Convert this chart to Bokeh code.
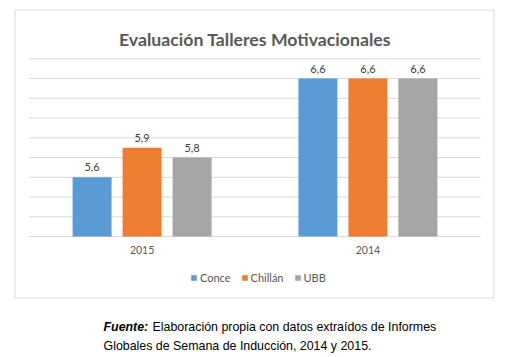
from bokeh.plotting import figure
from bokeh.models import ColumnDataSource, FactorRange, Range1d, Legend, LegendItem
from bokeh.transform import dodge
from bokeh.embed import file_html
from bokeh.resources import INLINE
from bokeh.core.properties import value

# ---- data ----
years = ["2015", "2014"]
series_names = ["Conce", "Chillán", "UBB"]
conce = [5.6, 6.6]
chillan = [5.9, 6.6]
ubb = [5.8, 6.6]
y_ticks = [5.0, 5.2, 5.4, 5.6, 5.8, 6.0, 6.2, 6.4, 6.6, 6.8]
title_text = "Evaluación Talleres Motivacionales"
source_bold = "Fuente:"
source_line1 = "Elaboración propia con datos extraídos de Informes"
source_line2 = "Globales de Semana de Inducción, 2014 y 2015."

# ---- style / layout ----
W, H = 509, 357
colors = ["#5B9BD5", "#ED7D31", "#A5A5A5"]
FONT = "Lato"
TXT = "#595959"
GRID = "#D9D9D9"

# pixel <-> data helpers (frame covers the whole canvas)
PAD = 0.127                       # category range padding on each side
PX_X = W / (len(years) + 2 * PAD)  # pixels per category
Y_BASE_PX, Y_TOP_PX = 236.0, 58.3  # pixel rows of the axis min / max
Y_MIN, Y_MAX = y_ticks[0], y_ticks[-1]
PX_Y = (Y_BASE_PX - Y_TOP_PX) / (Y_MAX - Y_MIN)

def xpx(px):
    return -PAD + px / PX_X

def ypx(py):
    return Y_MIN + (Y_BASE_PX - py) / PX_Y

p = figure(width=W, height=H, output_backend="svg", toolbar_location=None,
           x_range=FactorRange(*years, range_padding=PAD, range_padding_units="absolute"),
           y_range=Range1d(ypx(H), ypx(0)),
           min_border=0, min_border_left=0, min_border_right=0, min_border_top=0, min_border_bottom=0)
p.title.visible = False
p.background_fill_color = "white"
p.border_fill_color = "white"
p.outline_line_color = None
p.xgrid.visible = False
p.ygrid.visible = False
p.yaxis.visible = False

# outer chart border
p.quad(left=xpx(14.5), right=xpx(493.5), top=ypx(9.5), bottom=ypx(297.5),
       fill_color=None, line_color=GRID, line_width=1)

# horizontal gridlines spanning the category area
p.segment(x0=[0] * len(y_ticks), x1=[len(years)] * len(y_ticks), y0=y_ticks, y1=y_ticks,
          line_color=GRID, line_width=1)

# bars and value labels
src = ColumnDataSource(dict(
    year=years, c0=conce, c1=chillan, c2=ubb,
    l0=[f"{v:.1f}".replace(".", ",") for v in conce],
    l1=[f"{v:.1f}".replace(".", ",") for v in chillan],
    l2=[f"{v:.1f}".replace(".", ",") for v in ubb],
))
offsets = [-0.2214, 0.0, 0.2214]
items = []
for i, (name, col) in enumerate(zip(series_names, colors)):
    r = p.vbar(x=dodge("year", offsets[i], range=p.x_range), top=f"c{i}", bottom=Y_MIN,
               width=0.1727, source=src, fill_color=col, line_color=None)
    p.text(x=dodge("year", offsets[i], range=p.x_range), y=f"c{i}", text=f"l{i}", source=src,
           text_align="center", text_baseline="alphabetic", y_offset=-10,
           text_font=value(FONT), text_font_size="11px", text_color="#404040")
    items.append(LegendItem(label=name, renderers=[r]))

# category axis drawn at the baseline
p.xaxis.fixed_location = Y_MIN
p.xaxis.axis_line_color = None
p.xaxis.major_tick_line_color = None
p.xaxis.minor_tick_line_color = None
p.xaxis.major_tick_out = 0
p.xaxis.major_tick_in = 0
p.xaxis.major_label_standoff = 9
p.xaxis.major_label_text_font = FONT
p.xaxis.major_label_text_font_size = "10.5px"
p.xaxis.major_label_text_color = TXT

# title
p.text(x=[len(years) / 2], y=[ypx(38.5)], text=[title_text], text_align="center",
       text_baseline="alphabetic", text_font=value(FONT), text_font_style="bold",
       text_font_size="17.7px", text_color=TXT)

# legend
legend = Legend(items=items, orientation="horizontal", location=(190, H - 284),
                glyph_width=7, glyph_height=7, label_standoff=3, spacing=10, label_height=14,
                padding=0, margin=0, border_line_color=None, background_fill_alpha=0,
                label_text_font=FONT, label_text_font_size="11px", label_text_color=TXT)
p.add_layout(legend)

# source caption
CAP = "Liberation Sans"
p.text(x=[xpx(103)], y=[ypx(326)], text=[source_bold], text_font=value(CAP),
       text_font_style="bold italic", text_font_size="12.4px", text_color="black",
       text_baseline="alphabetic")
p.text(x=[xpx(152)], y=[ypx(326)], text=[source_line1], text_font=value(CAP),
       text_font_size="12.4px", text_color="black", text_baseline="alphabetic")
p.text(x=[xpx(103)], y=[ypx(345)], text=[source_line2], text_font=value(CAP),
       text_font_size="12.4px", text_color="black", text_baseline="alphabetic")

open("out.html", "w").write(file_html(p, INLINE))
